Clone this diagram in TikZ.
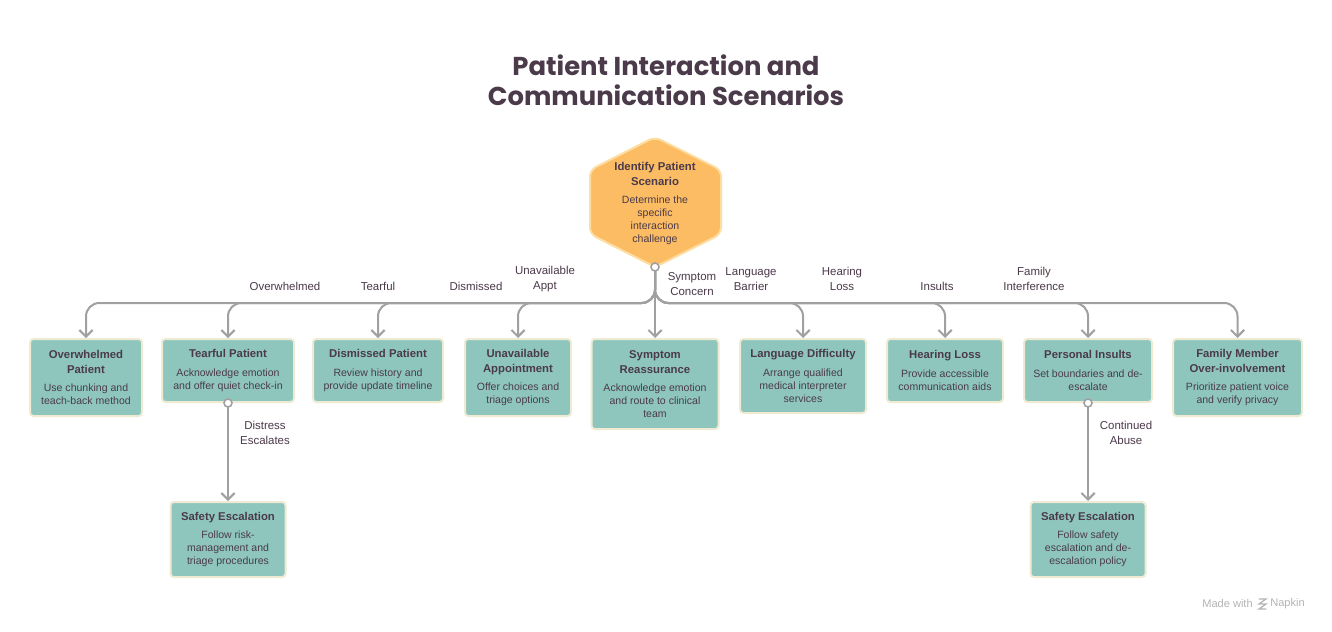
\documentclass[tikz,border=0pt]{standalone}
\usepackage{fontspec}
\setmainfont{Liberation Sans}
\newfontfamily\titlefont{Poppins}
\usetikzlibrary{arrows.meta}
\definecolor{txt}{HTML}{4B3A4A}
\definecolor{boxfill}{HTML}{8EC6BD}
\definecolor{boxline}{HTML}{EEEBD2}
\definecolor{hexfill}{HTML}{FBBC63}
\definecolor{hexline}{HTML}{FDDDA0}
\definecolor{connc}{HTML}{A0A0A0}
\definecolor{napk}{HTML}{B4B4B4}
\newcommand\ttl[1]{{\fontsize{8.5}{10}\selectfont\bfseries #1}}
\tikzset{
  box/.style={draw=boxline, line width=1.5pt, fill=boxfill, rounded corners=2.5pt,
    inner sep=0pt, align=center, text=txt, font=\fontsize{7.9}{9.8}\selectfont},
  sz/.style n args={2}{minimum width=#1*0.75pt, minimum height=#2*0.75pt},
  conn/.style={draw=connc, line width=1.5pt, rounded corners=10pt,
    -{Straight Barb[length=5pt,width=10pt,line width=1.5pt]}},
  lbl/.style={text=txt, align=center, inner sep=0pt, font=\fontsize{8.6}{11}\selectfont},
  dot/.style={circle, draw=connc, fill=white, line width=1.2pt, inner sep=0pt, minimum size=6pt}
}
\begin{document}
\begin{tikzpicture}[x=0.75pt,y=-0.75pt]
\useasboundingbox[fill=white] (0,0) rectangle (1332,632);

% title
\node[text=txt, font=\titlefont\bfseries\fontsize{19.4}{22.5}\selectfont, align=center] (title) at (666,80)
  {Patient Interaction and\\Communication Scenarios};

% hexagon
\filldraw[fill=hexfill, draw=hexline, line width=1.5pt, rounded corners=5pt]
  (655,137) -- (721,170) -- (721,234) -- (655,267) -- (590,234) -- (590,170) -- cycle;
\node[align=center, text=txt, inner sep=0pt, font=\fontsize{7.9}{9.8}\selectfont] (hex) at (655,203.5)
  {\ttl{Identify Patient}\\[1.5pt]\ttl{Scenario}\\[4pt]Determine the\\specific\\interaction\\challenge};
\coordinate (hexbot) at (655,267);
\coordinate (bus) at (0,303);

% boxes
\node[box, sz={112}{77}] (b1) at (86,377.5)
  {\ttl{Overwhelmed}\\[1.5pt]\ttl{Patient}\\[4pt]Use chunking and\\teach-back method};
\node[box, sz={132}{63}] (b2) at (228,370.5)
  {\ttl{Tearful Patient}\\[4pt]Acknowledge emotion\\and offer quiet check-in};
\node[box, sz={130}{63}] (b3) at (378,370.5)
  {\ttl{Dismissed Patient}\\[4pt]Review history and\\provide update timeline};
\node[box, sz={106}{77}] (b4) at (518,377.5)
  {\ttl{Unavailable}\\[1.5pt]\ttl{Appointment}\\[4pt]Offer choices and\\triage options};
\node[box, sz={127}{90}] (b5) at (655,384)
  {\ttl{Symptom}\\[1.5pt]\ttl{Reassurance}\\[4pt]Acknowledge emotion\\and route to clinical\\team};
\node[box, sz={126}{74}] (b6) at (803,376)
  {\ttl{Language Difficulty}\\[4pt]Arrange qualified\\medical interpreter\\services};
\node[box, sz={116}{63}] (b7) at (945,370.5)
  {\ttl{Hearing Loss}\\[4pt]Provide accessible\\communication aids};
\node[box, sz={128}{63}] (b8) at (1088,370.5)
  {\ttl{Personal Insults}\\[4pt]Set boundaries and de-\\escalate};
\node[box, sz={129}{77}] (b9) at (1237.5,377.5)
  {\ttl{Family Member}\\[1.5pt]\ttl{Over-involvement}\\[4pt]Prioritize patient voice\\and verify privacy};
\node[box, sz={115}{75}] (s1) at (228,539.5)
  {\ttl{Safety Escalation}\\[4pt]Follow risk-\\management and\\triage procedures};
\node[box, sz={115}{75}] (s2) at (1088,539.5)
  {\ttl{Safety Escalation}\\[4pt]Follow safety\\escalation and de-\\escalation policy};

% connectors
\foreach \b in {b1,b2,b3,b4,b6,b7,b8,b9}
  \draw[conn] (hexbot) |- (\b.north |- bus) -- (\b.north);
\draw[conn] (hexbot) -- (b5.north);
\draw[conn] (b2.south) -- (s1.north);
\draw[conn] (b8.south) -- (s2.north);
\node[dot] (d0) at (hexbot) {};
\node[dot] (d1) at (b2.south) {};
\node[dot] (d2) at (b8.south) {};

% labels
\node[lbl] (l1) at (285,286) {Overwhelmed};
\node[lbl] (l2) at (378,286) {Tearful};
\node[lbl] (l3) at (476,286) {Dismissed};
\node[lbl] (l4) at (545,279) {Unavailable\\Appt};
\node[lbl] (l5) at (692,284) {Symptom\\Concern};
\node[lbl] (l6) at (751,279) {Language\\Barrier};
\node[lbl] (l7) at (842,279) {Hearing\\Loss};
\node[lbl] (l8) at (937,286) {Insults};
\node[lbl] (l9) at (1034,279) {Family\\Interference};
\node[lbl] (l10) at (265,433) {Distress\\Escalates};
\node[lbl] (l11) at (1126,433) {Continued\\Abuse};

% footer
\node[text=napk, inner sep=0pt, anchor=east, font=\fontsize{8.3}{10}\selectfont] (made) at (1253,604) {Made with};
\node[text=napk, inner sep=0pt, anchor=west, font=\fontsize{8.3}{10}\selectfont] (napkin) at (1270,604) {Napkin};
\draw[napk, line width=0.9pt, line cap=round]
  (1259,599) -- (1266,599) -- (1259,604) -- (1266,604) -- (1259,609) -- (1266,609);
\end{tikzpicture}
\end{document}
